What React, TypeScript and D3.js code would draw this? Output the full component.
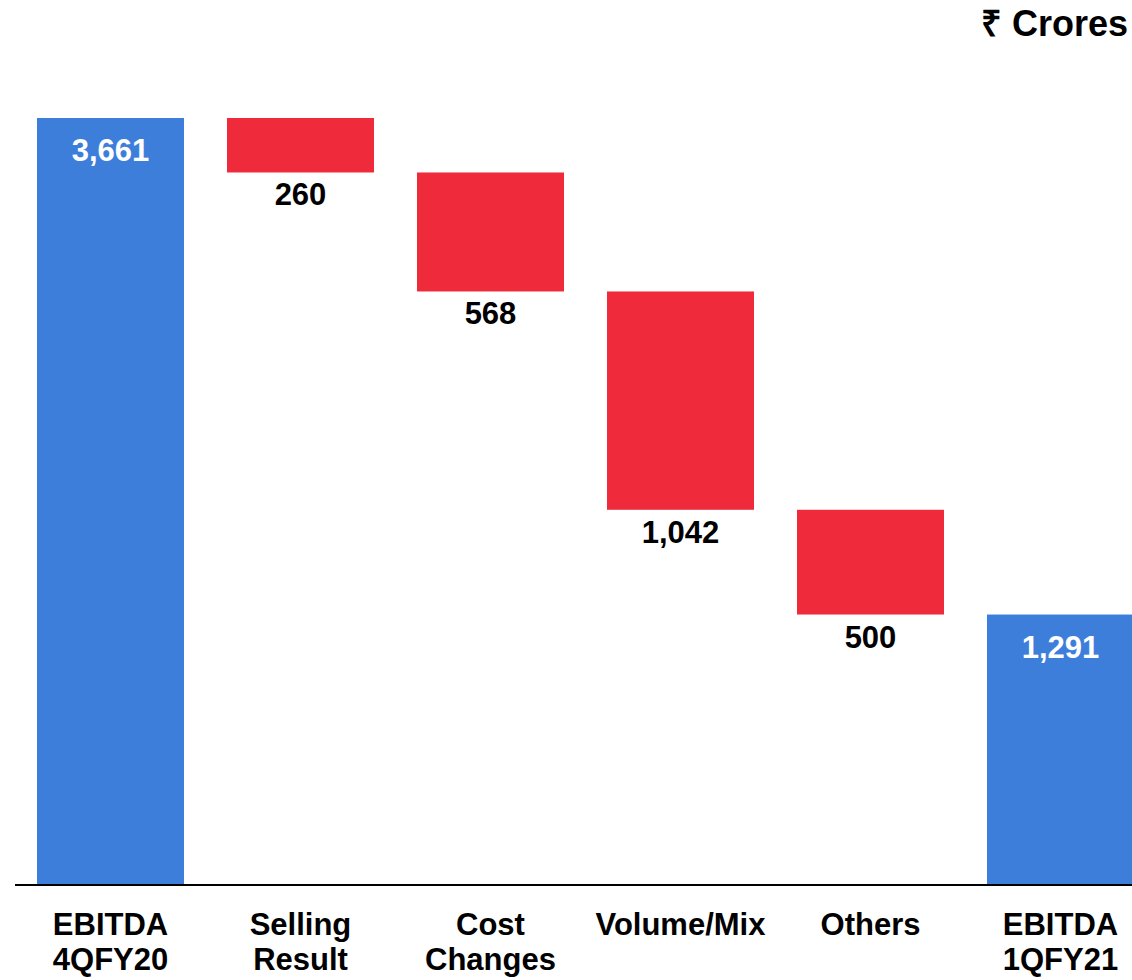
import * as d3 from "d3";

const categories = [
  "EBITDA\n4QFY20",
  "Selling\nResult",
  "Cost\nChanges",
  "Volume/Mix",
  "Others",
  "EBITDA\n1QFY21",
];
// positive = total bar, negative = decrease step
const values = [3661, -260, -568, -1042, -500, 1291];
const isTotal = [true, false, false, false, false, true];
const valueLabels = ["3,661", "260", "568", "1,042", "500", "1,291"];

const width = 1132;
const height = 980;
const baseY = 885;
const topY = 118;
const font = "'Liberation Sans', Arial, Helvetica, sans-serif";
const blue = "#3d7edb";
const red = "#ee2a3b";

interface IStep {
  cat: string;
  start: number;
  end: number;
  total: boolean;
  label: string;
}

export default function App() {
  // running total for waterfall
  let running = 0;
  const steps: IStep[] = categories.map((cat, i) => {
    if (isTotal[i]) {
      running = values[i];
      return { cat, start: 0, end: values[i], total: true, label: valueLabels[i] };
    }
    const start = running;
    running = running + values[i];
    return { cat, start, end: running, total: false, label: valueLabels[i] };
  });

  const x = d3
    .scaleBand()
    .domain(categories)
    .range([15.5, 1155.5])
    .paddingInner(0.2263)
    .paddingOuter(0.1132);

  const y = d3.scaleLinear().domain([0, values[0]]).range([baseY, topY]);

  return (
    <svg
      width={width}
      height={height}
      style={{ position: "absolute", left: 0, top: 0, display: "block" }}
      fontFamily={font}
      fontWeight="bold"
    >
      <rect width={width} height={height} fill="#fff" />
      <text x={1128} y={36} textAnchor="end" fontSize={36} fill="#000">
        ₹ Crores
      </text>
      {steps.map((s) => {
        const x0 = x(s.cat) ?? 0;
        const top = y(Math.max(s.start, s.end));
        const bottom = y(Math.min(s.start, s.end));
        const cx = x0 + x.bandwidth() / 2;
        return (
          <g key={s.cat}>
            <rect
              x={x0}
              y={top}
              width={x.bandwidth()}
              height={bottom - top}
              fill={s.total ? blue : red}
            />
            {s.total ? (
              <text x={cx} y={top + 43} textAnchor="middle" fontSize={31} fill="#fff">
                {s.label}
              </text>
            ) : (
              <text x={cx} y={bottom + 33} textAnchor="middle" fontSize={31} fill="#000">
                {s.label}
              </text>
            )}
          </g>
        );
      })}
      <line x1={15} x2={width} y1={baseY} y2={baseY} stroke="#000" strokeWidth={2} />
      {categories.map((c) => {
        const cx = (x(c) ?? 0) + x.bandwidth() / 2;
        return (
          <text key={c} x={cx} y={935} textAnchor="middle" fontSize={31} fill="#000">
            {c.split("\n").map((line, j) => (
              <tspan key={j} x={cx} dy={j === 0 ? 0 : 35}>
                {line}
              </tspan>
            ))}
          </text>
        );
      })}
    </svg>
  );
}
